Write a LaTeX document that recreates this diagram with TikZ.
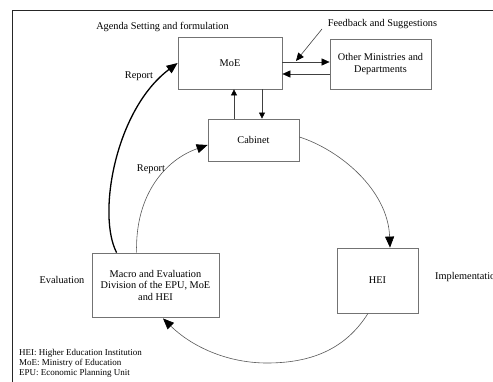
\documentclass[tikz,border=0pt]{standalone}
\usepackage{fontspec}
\setmainfont{Liberation Serif}
\usetikzlibrary{arrows.meta,calc}
\begin{document}
\begin{tikzpicture}[x=1pt,y=-1pt,
  every node/.style={font=\fontsize{10.3}{11.5}\selectfont, text=black, inner sep=0pt},
  box/.style={draw=black!55, line width=0.8pt, rectangle, align=center},
  legend/.style={font=\fontsize{9}{10}\selectfont, anchor=west},
  thin/.style={draw=black!65, line width=0.6pt},
  bigtip/.style={-{Triangle[length=11pt,width=9pt,color=black]}},
  midtip/.style={-{Triangle[length=8pt,width=7pt,color=black]}},
  smalltip/.style={-{Triangle[length=6pt,width=6pt,color=black]}}
]
\useasboundingbox (0,0) rectangle (493,382);
\clip (0,0) rectangle (493,382);
\fill[white] (0,0) rectangle (493,382);
% frame
\draw[line width=1pt, black!85] (12,382) -- (12,11) -- (493,11);

% boxes
\node[box, minimum width=104pt, minimum height=52pt] (moe) at (230,63) {MoE};
\node[box, minimum width=101pt, minimum height=50pt] (other) at (380.5,64) {Other Ministries and\\Departments};
\node[box, minimum width=91pt, minimum height=42pt] (cab) at (253.5,140) {Cabinet};
\node[box, minimum width=81pt, minimum height=65pt] (hei) at (377.5,280.5) {HEI};
\node[box, minimum width=127pt, minimum height=64pt] (macro) at (155.5,285) {Macro and Evaluation\\Division of the EPU, MoE\\and HEI};

% labels
\node (agenda) at (162.5,27) {Agenda Setting and formulation};
\node (feed) at (382.5,24) {Feedback and Suggestions};
\node (rep1) at (139,76) {Report};
\node (rep2) at (151,169) {Report};
\node (eval) at (62,280) {Evaluation};
\node[anchor=west] (impl) at (435,277) {Implementation};

% legend
\node[legend] (l1) at (19,353) {HEI: Higher Education Institution};
\node[legend] (l2) at (19,363) {MoE: Ministry of Education};
\node[legend] (l3) at (19,373) {EPU: Economic Planning Unit};

% MoE <-> Other
\coordinate (ya) at (0,62);
\coordinate (yb) at (0,74);
\draw[thin, draw=black!75, midtip] (moe.east |- ya) -- (other.west |- ya);
\draw[thin, draw=black!75, midtip] (other.west |- yb) -- (moe.east |- yb);

% feedback arrow
\coordinate (fbs) at (322,29);
\coordinate (fbe) at (296,61);
\draw[thin, draw=black!75, midtip] (fbs) -- (fbe);

% MoE <-> Cabinet
\coordinate (xa) at (234,0);
\coordinate (xb) at (262,0);
\draw[thin, draw=black!75, smalltip] (cab.north -| xa) -- (moe.south -| xa);
\draw[thin, draw=black!75, smalltip] (moe.south -| xb) -- (cab.north -| xb);

% outer thick report curve
\draw[line width=1.3pt, black, bigtip]
  ($(macro.north west)+(25,0)$) .. controls (97,215) and (115,110) .. (moe.west);
% inner report curve
\draw[thin, bigtip]
  ($(macro.north west)+(45,0)$) .. controls (135,195) and (165,160) .. ($(cab.west)+(0,5)$);
% cabinet -> HEI
\draw[thin, bigtip]
  ($(cab.east)+(0,-3)$) .. controls (340,150) and (388,190) .. ($(hei.north)+(12.5,0)$);
% HEI -> macro
\draw[thin, bigtip]
  ($(hei.south)+(-9.5,0)$) .. controls (345,350) and (310,363) .. (267,363)
  .. controls (225,363) and (190,345) .. ($(macro.south)+(7.5,1)$);
\end{tikzpicture}
\end{document}
